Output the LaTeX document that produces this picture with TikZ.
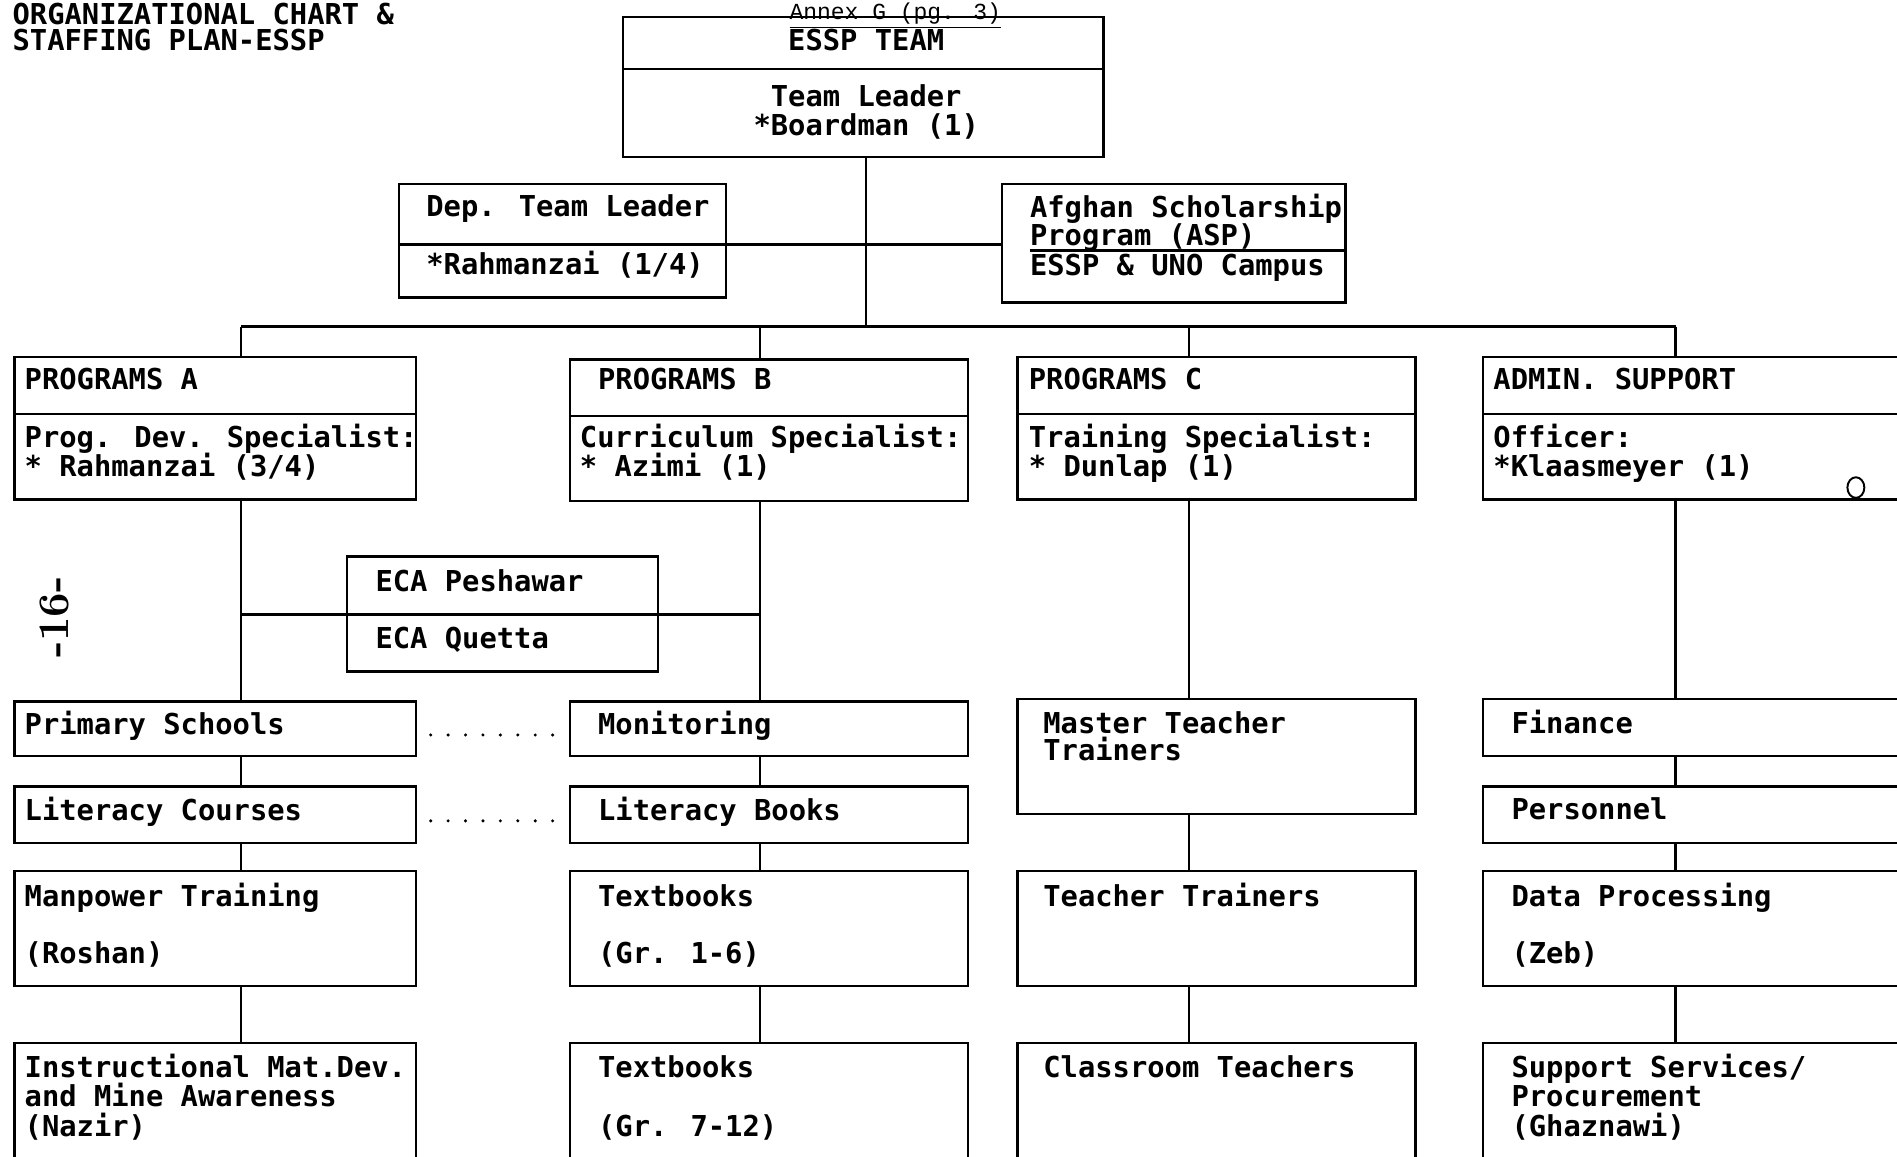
\documentclass[tikz,border=0pt]{standalone}
\usepackage{fontspec}
\newfontfamily\boxfont{DejaVu Sans Mono}
\newfontfamily\annexfont{Liberation Mono}
\usetikzlibrary{fit,calc,shapes.geometric}
\newcommand\divline[2]{\draw[ln] ($(#1.north west)+(0,#2)$) -- ($(#1.north east)+(0,#2)$);}
\begin{document}
\begin{tikzpicture}[x=0.5pt,y=-0.5pt,
  box/.style={draw, line width=1pt, inner sep=0pt, outer sep=0pt, rectangle},
  txt/.style={anchor=base west, inner sep=0pt, font=\boxfont\bfseries\fontsize{11.9}{12}\selectfont},
  ctxt/.style={txt, anchor=base},
  ln/.style={line width=1pt},
  dotsln/.style={line width=1.4pt, line cap=round, dash pattern=on 0pt off 7.2pt}]
\useasboundingbox (0,0) rectangle (1568,956);
\fill[white] (0,0) rectangle (1568,956);
\clip (0,0) rectangle (1568,956);

% titles
\node[txt] (title1) at (10,20) {ORGANIZATIONAL CHART \&};
\node[txt] (title2) at (10,42) {STAFFING PLAN-ESSP};
\node[anchor=base, inner sep=0pt, font=\annexfont\fontsize{9.5}{10}\selectfont] (annex) at (740,16) {\underline{Annex G (pg. 3)}};

% top box
\node[box, fit={(515,14)(912,130)}] (essp) {};
\divline{essp}{43}
\node[ctxt] (tessp) at (716,42) {ESSP TEAM};
\node[ctxt] (tlead) at (716,88) {Team Leader};
\node[ctxt] (tboard) at (716,112) {*Boardman (1)};

% deputy and ASP
\node[box, fit={(330,152)(600,246)}] (dep) {};
\divline{dep}{50}
\node[txt] (tdep1) at (352,179) {Dep. Team Leader};
\node[txt] (tdep2) at (352,227) {*Rahmanzai (1/4)};

\node[box, fit={(828,152)(1112,250)}] (asp) {};
\node[txt] (tasp1) at (851,180) {Afghan Scholarship};
\node[txt] (tasp2) at (851,203) {Program (ASP)};
\node[txt] (tasp3) at (851,228) {ESSP \& UNO Campus};
\coordinate (aspu) at (851,207);
\draw[ln] (aspu) -- (aspu -| asp.east);

\draw[ln] ($(dep.north east)+(0,50)$) coordinate (dl) -- (dl -| asp.west);

% bus
\coordinate (bA) at (199,270);
\coordinate (bB) at (628,270);
\coordinate (bC) at (983,270);
\coordinate (bD) at (1385,270);
\coordinate (bT) at (716,270);
\draw[ln] (essp.south -| bT) -- (bT);
\draw[ln] (bA) -- (bD);

% program boxes
\node[box, fit={(12,295)(344,413)}] (pa) {};
\divline{pa}{47}
\node[txt] (tpa1) at (20,322) {PROGRAMS A};
\node[txt] (tpa2) at (20,370) {Prog. Dev. Specialist:};
\node[txt] (tpa3) at (20,394) {* Rahmanzai (3/4)};

\node[box, fit={(471,297)(800,414)}] (pb) {};
\divline{pb}{47}
\node[txt] (tpb1) at (494,322) {PROGRAMS B};
\node[txt] (tpb2) at (479,370) {Curriculum Specialist:};
\node[txt] (tpb3) at (479,394) {* Azimi (1)};

\node[box, fit={(841,295)(1170,413)}] (pc) {};
\divline{pc}{47}
\node[txt] (tpc1) at (850,322) {PROGRAMS C};
\node[txt] (tpc2) at (850,370) {Training Specialist:};
\node[txt] (tpc3) at (850,394) {* Dunlap (1)};

\node[box, fit={(1226,295)(1620,413)}] (pd) {};
\divline{pd}{47}
\node[txt] (tpd1) at (1234,322) {ADMIN. SUPPORT};
\node[txt] (tpd2) at (1234,370) {Officer:};
\node[txt] (tpd3) at (1234,394) {*Klaasmeyer (1)};
\node[draw, ellipse, line width=0.8pt, minimum width=7pt, minimum height=8.5pt, inner sep=0pt] (hole) at (1534,403) {};

\draw[ln] (bA) -- (pa.north -| bA);
\draw[ln] (bB) -- (pb.north -| bB);
\draw[ln] (bC) -- (pc.north -| bC);
\draw[ln] (bD) -- (pd.north -| bD);

% ECA
\node[box, fit={(287,460)(544,555)}] (eca) {};
\divline{eca}{48}
\node[txt] (teca1) at (310,489) {ECA Peshawar};
\node[txt] (teca2) at (310,536) {ECA Quetta};
\coordinate (jA) at (199,508);
\coordinate (jB) at (628,508);
\draw[ln] (jA) -- (eca.west |- jA);
\draw[ln] (eca.east |- jB) -- (jB);

% page number
\node[rotate=90, inner sep=0pt, font=\bfseries\fontsize{18}{18}\selectfont] (pgno) at (45,510) {-16-};

% column A
\node[box, fit={(12,580)(344,625)}] (ps) {};
\node[txt] (tps) at (20,607) {Primary Schools};
\node[box, fit={(12,650)(344,697)}] (lc) {};
\node[txt] (tlc) at (20,678) {Literacy Courses};
\node[box, fit={(12,720)(344,815)}] (mp) {};
\node[txt] (tmp1) at (20,749) {Manpower Training};
\node[txt] (tmp2) at (20,796) {(Roshan)};
\node[box, fit={(12,862)(344,1010)}] (im) {};
\node[txt] (tim1) at (20,891) {Instructional Mat.Dev.};
\node[txt] (tim2) at (20,915) {and Mine Awareness};
\node[txt] (tim3) at (20,939) {(Nazir)};

% column B
\node[box, fit={(471,580)(800,625)}] (mon) {};
\node[txt] (tmon) at (494,607) {Monitoring};
\node[box, fit={(471,650)(800,697)}] (lb) {};
\node[txt] (tlb) at (494,678) {Literacy Books};
\node[box, fit={(471,720)(800,815)}] (tb1) {};
\node[txt] (ttb1a) at (494,749) {Textbooks};
\node[txt] (ttb1b) at (494,796) {(Gr. 1-6)};
\node[box, fit={(471,862)(800,1010)}] (tb2) {};
\node[txt] (ttb2a) at (494,891) {Textbooks};
\node[txt] (ttb2b) at (494,939) {(Gr. 7-12)};

% column C
\node[box, fit={(841,578)(1170,673)}] (mtt) {};
\node[txt] (tmtt1) at (862,606) {Master Teacher};
\node[txt] (tmtt2) at (862,629) {Trainers};
\node[box, fit={(841,720)(1170,815)}] (tt) {};
\node[txt] (ttt) at (862,749) {Teacher Trainers};
\node[box, fit={(841,862)(1170,1010)}] (ct) {};
\node[txt] (tct) at (862,891) {Classroom Teachers};

% column D
\node[box, fit={(1226,578)(1620,625)}] (fin) {};
\node[txt] (tfin) at (1249,606) {Finance};
\node[box, fit={(1226,650)(1620,697)}] (per) {};
\node[txt] (tper) at (1249,677) {Personnel};
\node[box, fit={(1226,720)(1620,815)}] (dp) {};
\node[txt] (tdp1) at (1249,749) {Data Processing};
\node[txt] (tdp2) at (1249,796) {(Zeb)};
\node[box, fit={(1226,862)(1620,1010)}] (ss) {};
\node[txt] (tss1) at (1249,891) {Support Services/};
\node[txt] (tss2) at (1249,915) {Procurement};
\node[txt] (tss3) at (1249,939) {(Ghaznawi)};

% vertical connectors
\draw[ln] (pa.south -| bA) -- (ps.north -| bA);
\draw[ln] (ps.south -| bA) -- (lc.north -| bA);
\draw[ln] (lc.south -| bA) -- (mp.north -| bA);
\draw[ln] (mp.south -| bA) -- (im.north -| bA);

\draw[ln] (pb.south -| bB) -- (mon.north -| bB);
\draw[ln] (mon.south -| bB) -- (lb.north -| bB);
\draw[ln] (lb.south -| bB) -- (tb1.north -| bB);
\draw[ln] (tb1.south -| bB) -- (tb2.north -| bB);

\draw[ln] (pc.south -| bC) -- (mtt.north -| bC);
\draw[ln] (mtt.south -| bC) -- (tt.north -| bC);
\draw[ln] (tt.south -| bC) -- (ct.north -| bC);

\draw[ln] (pd.south -| bD) -- (fin.north -| bD);
\draw[ln] (fin.south -| bD) -- (per.north -| bD);
\draw[ln] (per.south -| bD) -- (dp.north -| bD);
\draw[ln] (dp.south -| bD) -- (ss.north -| bD);

% dotted links
\draw[dotsln, shorten <=6pt, shorten >=3pt] ($(ps.east)+(0,5)$) -- ($(mon.west)+(0,5)$);
\draw[dotsln, shorten <=6pt, shorten >=3pt] ($(lc.east)+(0,5)$) -- ($(lb.west)+(0,5)$);
\end{tikzpicture}
\end{document}
